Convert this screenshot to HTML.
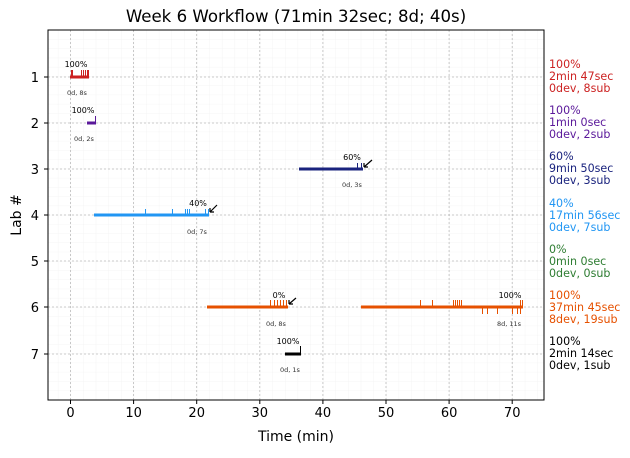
<!DOCTYPE html><html><head><style>body{margin:0;background:#fff}svg{font-family:"DejaVu Sans","Liberation Sans",sans-serif}</style></head><body>
<svg width="630" height="453" xmlns="http://www.w3.org/2000/svg">
<defs><pattern id="mg" x="70.5" y="30" width="12.62" height="9.24" patternUnits="userSpaceOnUse"><path d="M0 0V9.24M0 0H12.62" stroke="#eee" stroke-width="0.6"/></pattern></defs>
<rect x="48" y="30" width="496" height="370" fill="url(#mg)"/>
<g stroke="#bbb" stroke-width="0.8" stroke-dasharray="2,2">
<path d="M70.5 30V400M133.6 30V400M196.7 30V400M259.8 30V400M322.9 30V400M386 30V400M449.1 30V400M512.2 30V400"/>
<path d="M48 77H544M48 123H544M48 169H544M48 215H544M48 261H544M48 307H544M48 354H544"/>
</g>
<rect x="48" y="30" width="496" height="370" fill="none" stroke="#000" stroke-width="1"/>
<text x="296" y="22" font-size="16.6" text-anchor="middle">Week 6 Workflow (71min 32sec; 8d; 40s)</text>
<g font-size="13" text-anchor="middle">
<text x="70.5" y="417">0</text><text x="133.6" y="417">10</text><text x="196.7" y="417">20</text><text x="259.8" y="417">30</text><text x="322.9" y="417">40</text><text x="386" y="417">50</text><text x="449.1" y="417">60</text><text x="512.2" y="417">70</text>
<text x="296" y="441" font-size="14">Time (min)</text>
</g>
<g stroke="#000"><path d="M70.5 400v4M133.6 400v4M196.7 400v4M259.8 400v4M322.9 400v4M386 400v4M449.1 400v4M512.2 400v4M48 77h-4M48 123h-4M48 169h-4M48 215h-4M48 261h-4M48 307h-4M48 354h-4"/></g>
<g font-size="13" text-anchor="end"><text x="39" y="82">1</text><text x="39" y="128">2</text><text x="39" y="174">3</text><text x="39" y="220">4</text><text x="39" y="266">5</text><text x="39" y="312">6</text><text x="39" y="359">7</text></g>
<text transform="translate(21,215) rotate(-90)" font-size="14" text-anchor="middle">Lab #</text>
<g stroke-width="3">
<path d="M70 77H89" stroke="#cc2222"/><path d="M87 123H96" stroke="#5a189a"/><path d="M299 169H363" stroke="#1a237e"/>
<path d="M94 215H209" stroke="#2196f3"/><path d="M207 307H288M361 307H523" stroke="#e65100"/><path d="M285 354H301" stroke="#000"/>
</g>
<g stroke-width="1">
<path d="M71.5 77v-7M72.5 77v-7M81.5 77v-7M83.5 77v-7M85.5 77v-7M87.5 77v-7M88.5 77v-7" stroke="#cc2222"/>
<path d="M95.5 123v-7" stroke="#5a189a"/>
<path d="M357.5 169v-6M361.5 169v-6" stroke="#1a237e"/>
<path d="M145.5 215v-6M172.5 215v-6M185.5 215v-6M187.5 215v-6M189.5 215v-6M205.5 215v-6M208.5 215v-6" stroke="#2196f3"/>
<path d="M270.5 307v-7M274.5 307v-7M277.5 307v-7M280.5 307v-7M283.5 307v-7M286.5 307v-7M420.5 307v-7M432.5 307v-7M453.5 307v-7M455.5 307v-7M457.5 307v-7M459.5 307v-7M461.5 307v-7M520.5 307v-7M522.5 307v-7M482.5 307v7M487.5 307v7M497.5 307v7M512.5 307v7M517.5 307v7M520.5 307v7" stroke="#e65100"/>
<path d="M300.5 354v-8" stroke="#000"/>
</g>
<g stroke="#000" stroke-width="1.2" fill="none">
<path d="M372 160L364 167M364 167h4M364 167v-4"/>
<path d="M217 205L210 212M210 212h4M210 212v-4"/>
<path d="M296 298L289 304M289 304h4M289 304v-4"/>
</g>
<g font-size="8" text-anchor="middle">
<text x="76" y="67">100%</text><text x="83" y="113">100%</text><text x="352" y="160">60%</text><text x="198" y="206">40%</text><text x="279" y="298">0%</text><text x="510" y="298">100%</text><text x="288" y="344">100%</text>
</g>
<g font-size="6.5" fill="#333" text-anchor="middle">
<text x="77" y="95">0d, 8s</text><text x="84" y="141">0d, 2s</text><text x="352" y="187">0d, 3s</text><text x="197" y="234">0d, 7s</text><text x="276" y="326">0d, 8s</text><text x="509" y="326">8d, 11s</text><text x="290" y="372">0d, 1s</text>
</g>
<g font-size="11.1">
<g fill="#cc2222"><text x="549" y="68">100%</text><text x="549" y="80">2min 47sec</text><text x="549" y="92">0dev, 8sub</text></g>
<g fill="#5a189a"><text x="549" y="114">100%</text><text x="549" y="126">1min 0sec</text><text x="549" y="138">0dev, 2sub</text></g>
<g fill="#1a237e"><text x="549" y="160">60%</text><text x="549" y="172">9min 50sec</text><text x="549" y="184">0dev, 3sub</text></g>
<g fill="#2196f3"><text x="549" y="207">40%</text><text x="549" y="219">17min 56sec</text><text x="549" y="231">0dev, 7sub</text></g>
<g fill="#2e7d32"><text x="549" y="253">0%</text><text x="549" y="265">0min 0sec</text><text x="549" y="277">0dev, 0sub</text></g>
<g fill="#e65100"><text x="549" y="299">100%</text><text x="549" y="311">37min 45sec</text><text x="549" y="323">8dev, 19sub</text></g>
<g fill="#000"><text x="549" y="345">100%</text><text x="549" y="357">2min 14sec</text><text x="549" y="369">0dev, 1sub</text></g>
</g>
</svg></body></html>
